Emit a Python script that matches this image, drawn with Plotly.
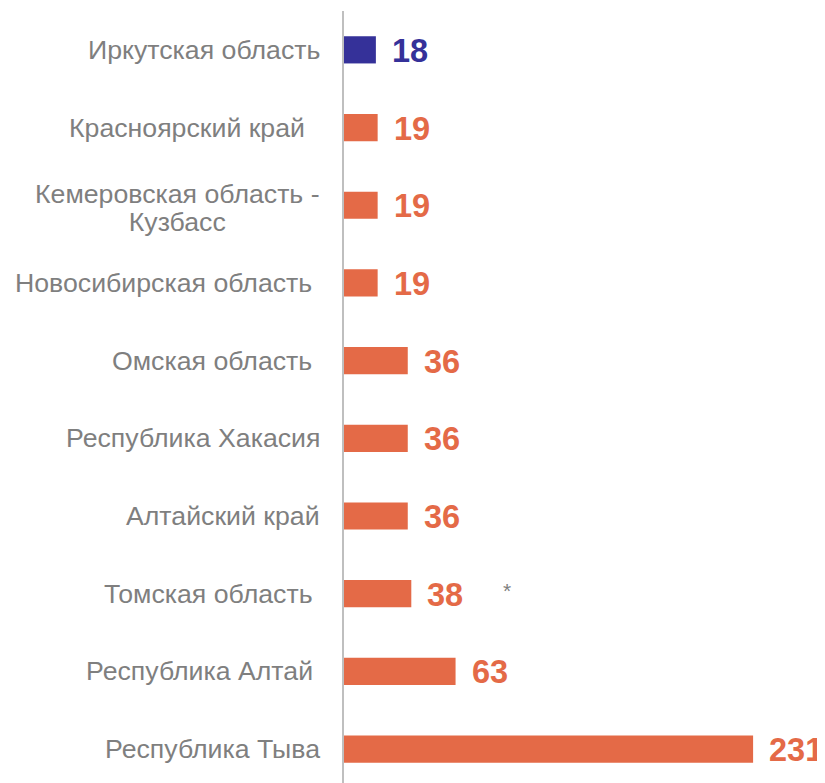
import plotly.graph_objects as go

categories = [
    "Иркутская область",
    "Красноярский край\u00a0\u00a0",
    "Кемеровская область -<br>Кузбасс",
    "Новосибирская область\u00a0",
    "Омская область\u00a0",
    "Республика Хакасия",
    "Алтайский край",
    "Томская область\u00a0",
    "Республика Алтай\u00a0",
    "Республика Тыва",
]
values = [18, 19, 19, 19, 36, 36, 36, 38, 63, 231]
highlight = "Иркутская область"
notes = {"Томская область\u00a0": "*"}

NAVY = "#353199"
ORANGE = "#E46A47"
GRAY_TXT = "#7F7F7F"
FONT = "Liberation Sans, Arial, sans-serif"

colors = [NAVY if c == highlight else ORANGE for c in categories]
ids = list(range(len(categories)))

fig = go.Figure()
fig.add_trace(go.Bar(
    x=values, y=ids, orientation="h",
    marker=dict(color=colors, line=dict(width=0)),
    width=0.35, hoverinfo="skip",
))

annotations = []
for i, (c, v, col) in enumerate(zip(categories, values, colors)):
    parts = c.split("<br>")
    label = "<br>".join(
        f'<span style="font-size:26.7px">{part}</span>' for part in parts
    )
    annotations.append(dict(
        x=0, xref="paper", y=i, yref="y", text=label, showarrow=False,
        xanchor="right", yanchor="middle", align="center", xshift=-22,
        yshift=-3 if len(parts) > 1 else 0,
        font=dict(family=FONT, size=21.5, color=GRAY_TXT),
    ))
    annotations.append(dict(
        x=v, xref="x", y=i, yref="y", text=f"<b>{v}</b>", showarrow=False,
        xanchor="left", yanchor="middle", xshift=14, yshift=-1,
        font=dict(family=FONT, size=32.5, color=col),
    ))
    if c in notes:
        annotations.append(dict(
            x=v, xref="x", y=i, yref="y", text=notes[c], showarrow=False,
            xanchor="center", yanchor="middle", xshift=96, yshift=3,
            font=dict(family=FONT, size=21, color=GRAY_TXT),
        ))

fig.update_layout(
    width=817, height=775,
    margin=dict(l=336, r=0, t=3, b=0),
    paper_bgcolor="white", plot_bgcolor="white",
    showlegend=False,
    xaxis=dict(range=[0, 271.6], visible=False, showgrid=False, zeroline=False),
    yaxis=dict(range=[9.437, -0.5], showticklabels=False, showgrid=False,
               zeroline=False, showline=True, linecolor="#BFBFBF", linewidth=1.5,
               ticks=""),
    annotations=annotations,
    font=dict(family=FONT),
)

fig.write_html("out.html")
